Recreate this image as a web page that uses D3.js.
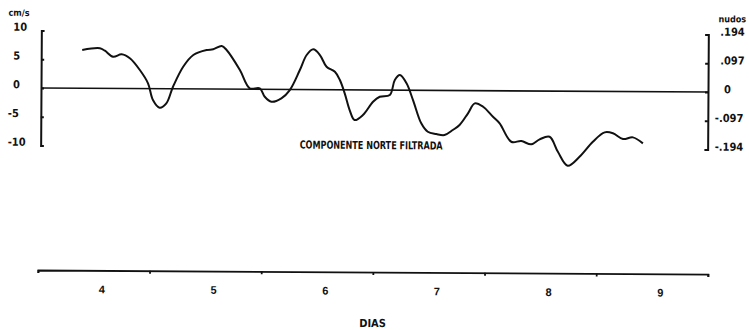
<!DOCTYPE html>
<html>
<head>
<meta charset="utf-8">
<script src="https://cdn.jsdelivr.net/npm/d3@7"></script>
<style>
  html, body { margin: 0; padding: 0; background: #fff; }
  svg { display: block; }
  text { font-family: "Liberation Sans Narrow", "DejaVu Sans Condensed", sans-serif; font-weight: bold; fill: #111; }
</style>
</head>
<body>
<svg id="chart" width="749" height="330"></svg>
<script>
// ---- Data ----
const days = [3.815, 3.973, 4.018, 4.092, 4.168, 4.242, 4.332, 4.406, 4.451, 4.511, 4.571, 4.630, 4.720, 4.810, 4.929,
  4.988, 5.064, 5.108, 5.228, 5.317, 5.407, 5.452, 5.512, 5.601, 5.676, 5.765, 5.825, 5.884, 5.944, 6.004,
  6.079, 6.124, 6.168, 6.213, 6.258, 6.332, 6.422, 6.482, 6.572, 6.616, 6.661, 6.721, 6.780, 6.855, 6.914,
  6.990, 7.064, 7.138, 7.198, 7.273, 7.333, 7.408, 7.497, 7.557, 7.662, 7.752, 7.841, 7.916, 8.005, 8.080,
  8.169, 8.274, 8.393, 8.498, 8.572, 8.662, 8.751, 8.841];
const northCms = [6.65, 6.97, 6.55, 5.52, 5.94, 5.26, 3.23, 0.93, -1.97, -3.30, -2.53, 0.36, 3.85, 5.90, 6.78,
  6.91, 7.49, 6.80, 3.34, 0.17, 0.18, -1.28, -2.14, -1.54, -0.09, 3.40, 6.02, 7.01, 6.03, 4.00,
  3.14, 1.70, -0.61, -3.50, -5.24, -4.36, -2.04, -1.16, -0.85, 1.76, 2.63, 1.20, -1.70, -5.74, -7.20,
  -7.59, -7.75, -6.87, -6.00, -3.95, -2.21, -2.79, -4.52, -5.66, -8.85, -8.72, -9.28, -8.40, -7.94, -10.54,
  -12.96, -11.39, -8.76, -7.12, -7.27, -8.26, -7.96, -8.99];

const leftTicks = [10, 5, 0, -5, -10];
const leftTickLabels = ["10", "5", "0", "-5", "-10"];
const rightTicks = [0.194, 0.097, 0, -0.097, -0.194];
const rightTickLabels = [".194", ".097", "0", "-.097", "-.194"];
const dayLabels = [4, 5, 6, 7, 8, 9];
const dayBounds = [3.43, 4.43, 5.43, 6.43, 7.43, 8.43, 9.43];

const leftUnit = "cm/s";
const rightUnit = "nudos";
const xTitle = "DIAS";
const chartTitle = "COMPONENTE NORTE FILTRADA";

// ---- Drawing ----
const svg = d3.select("#chart");
const g = svg.append("g").attr("transform", "rotate(0.35, 41, 88)");

const x = d3.scaleLinear().domain([3.43, 9.43]).range([39, 709]);
const y = d3.scaleLinear().domain([-10, 10]).range([145.5, 30.5]);
const yKn = d3.scaleLinear().domain([-0.194, 0.194]).range([145.5, 30.5]);

const axLeftX = 41, axRightX = 708;

function styleAxis(sel, w) {
  sel.selectAll("path, line").attr("stroke", "#111").attr("stroke-width", w).attr("fill", "none");
}

// zero line
g.append("line")
  .attr("x1", axLeftX).attr("x2", axRightX)
  .attr("y1", y(0)).attr("y2", y(0))
  .attr("stroke", "#111").attr("stroke-width", 1.6);

// left axis (ticks pointing inward)
const gl = g.append("g").attr("transform", `translate(${axLeftX},0)`)
  .call(d3.axisRight(y).tickValues(leftTicks).tickSize(3).tickSizeOuter(3).tickFormat(""));
styleAxis(gl, 2);

// right axis
const gr = g.append("g").attr("transform", `translate(${axRightX},0)`)
  .call(d3.axisLeft(yKn).tickValues(rightTicks).tickSize(3).tickSizeOuter(3).tickFormat(""));
styleAxis(gr, 2);

// left labels
g.selectAll("text.ll").data(leftTicks).enter().append("text")
  .attr("class", "ll")
  .attr("x", d => d < 0 ? 8 : 13)
  .attr("y", d => y(d) + 0.5)
  .attr("font-size", 11)
  .text((d, i) => leftTickLabels[i]);
g.append("text").attr("x", 8).attr("y", 16).attr("font-size", 9).text(leftUnit);

// right labels
g.selectAll("text.rl").data(rightTicks).enter().append("text")
  .attr("class", "rl")
  .attr("x", d => d < 0 ? 715 : (d === 0 ? 724 : 720))
  .attr("y", d => yKn(d) + 1)
  .attr("font-size", 11)
  .text((d, i) => rightTickLabels[i]);
g.append("text").attr("x", 718).attr("y", 18).attr("font-size", 9).text(rightUnit);

// bottom axis
const gb = g.append("g").attr("transform", "translate(0,270)")
  .call(d3.axisBottom(x).tickValues(dayBounds).tickSize(3).tickSizeOuter(3).tickFormat(""));
styleAxis(gb, 1.8);

const gbl = g.append("g").attr("transform", "translate(0,270)")
  .call(d3.axisBottom(x).tickValues(dayLabels).tickSize(0).tickPadding(15).tickFormat(d3.format("d")));
gbl.select(".domain").remove();
gbl.selectAll("text").attr("font-size", 11).attr("font-family", null).style("font-family", "'Liberation Sans Narrow', sans-serif").style("font-weight", "bold");

g.append("text").attr("x", x(6.43)).attr("y", 325).attr("text-anchor", "middle")
  .attr("font-size", 11).text(xTitle);

// title
g.append("text").attr("x", 300).attr("y", 147).attr("font-size", 11)
  .attr("textLength", 143).attr("lengthAdjust", "spacingAndGlyphs")
  .text(chartTitle);

// curve
const pts = days.map((d, i) => [d, northCms[i]]);
g.append("path")
  .datum(pts)
  .attr("fill", "none")
  .attr("stroke", "#111")
  .attr("stroke-width", 2)
  .attr("stroke-linejoin", "round")
  .attr("d", d3.line().x(d => x(d[0])).y(d => y(d[1])).curve(d3.curveCatmullRom.alpha(0.5)));
</script>
</body>
</html>
